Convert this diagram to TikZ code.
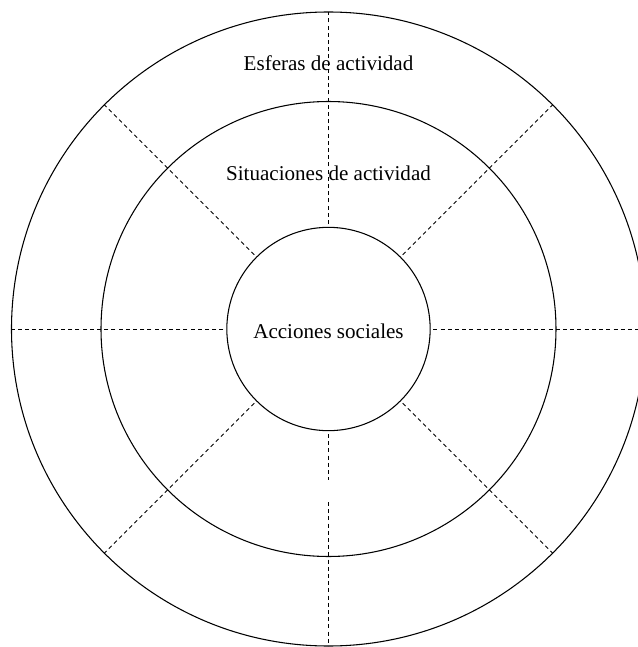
\documentclass[tikz,border=0pt]{standalone}
\usepackage{fontspec}
\setmainfont{Liberation Serif}
\begin{document}
\begin{tikzpicture}[x=0.75pt,y=0.75pt,
  ring/.style={circle, draw, line width=0.8pt, minimum size=#1, inner sep=0pt},
  ringtext/.style={font=\fontsize{15.8}{19}\selectfont},
  spoke/.style={dash pattern=on 3pt off 2.4pt, line width=0.6pt}]
% Page frame (the outer ring runs off the right edge)
\clip (-328.5,-318) rectangle (309.5,329);
% Rings
\node[ring=475.5pt] (outer) at (0,0) {};
\node[ring=341.25pt] (middle) at (0,0) {};
\node[ring=152.5pt] (inner) at (0,0) {};
% Spokes
\foreach \a in {0,45,90,135,180,225,315}
  \draw[spoke] (\a:105) -- (\a:317);
\draw[spoke] (270:105) -- (270:151);
\draw[spoke] (270:173) -- (270:317);
% Labels
\node[ringtext] (esferas) at (0,266) {Esferas de actividad};
\node[ringtext] (situaciones) at (0,156) {Situaciones de actividad};
\node[ringtext] (acciones) at (0,-2) {Acciones sociales};
\end{tikzpicture}
\end{document}
